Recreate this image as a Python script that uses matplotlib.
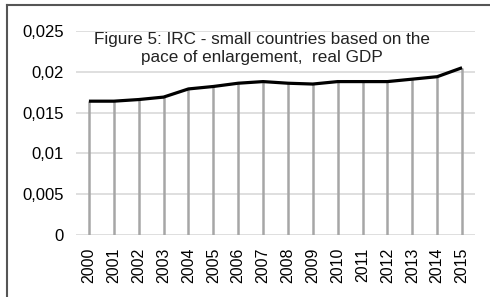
import numpy as np
import matplotlib.pyplot as plt
from matplotlib.lines import Line2D

years = list(range(2000, 2016))
irc = [0.0164, 0.0164, 0.0166, 0.0169, 0.0179, 0.0182, 0.0186, 0.0188,
       0.0186, 0.0185, 0.0188, 0.0188, 0.0188, 0.0191, 0.0194, 0.0205]
yticks = [0, 0.005, 0.01, 0.015, 0.02, 0.025]
ytick_labels = ["0", "0,005", "0,01", "0,015", "0,02", "0,025"]

plt.rcParams['font.family'] = ['Liberation Sans', 'DejaVu Sans']

fig = plt.figure(figsize=(4.90, 2.97), dpi=100)
ax = fig.add_axes([76/490, 1 - 235/297, 399/490, 204/297])

x = np.arange(len(years))

# gridlines
for t in yticks:
    ax.axhline(t, color="#d9d9d9", lw=1.2, zorder=0)

# drop lines
ax.vlines(x, 0, irc, color="#a6a6a6", lw=1.8, zorder=1)

ax.plot(x, irc, color="black", lw=2.3, zorder=3, solid_capstyle="butt")

ax.set_xlim(-0.52, len(years) - 0.48)
ax.set_ylim(0, 0.025)
ax.set_xticks(x)
ax.set_xticklabels([str(y) for y in years], rotation=90, fontsize=11.5)
ax.set_yticks(yticks)
ax.set_yticklabels(ytick_labels, fontsize=12)
ax.tick_params(length=0, pad=9)
ax.tick_params(axis="y", pad=9)
for s in ax.spines.values():
    s.set_visible(False)

ax.text(0.465, 0.915, "Figure 5: IRC - small countries based on the\npace of enlargement,  real GDP",
        transform=ax.transAxes, ha="center", va="center", fontsize=12.3,
        linespacing=1.2, color="#222222")

# outer border (left and top visible only)
fig.add_artist(Line2D([6.5/490, 6.5/490], [0, 1 - 5/297], color="#555555", lw=1.5))
fig.add_artist(Line2D([6.5/490, 1], [1 - 5/297, 1 - 5/297], color="#555555", lw=1.5))

fig.savefig("out.png", dpi=100)
